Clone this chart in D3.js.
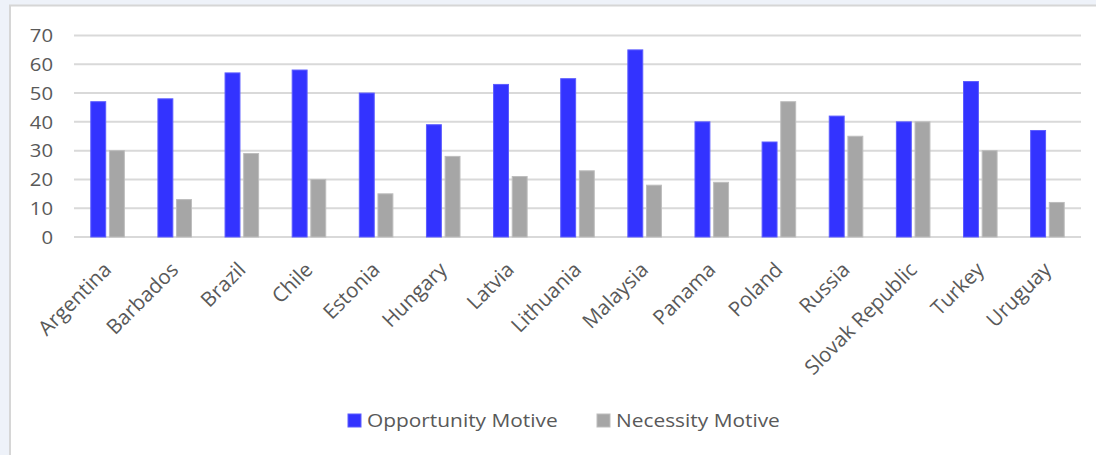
<!DOCTYPE html>
<html>
<head>
<meta charset="utf-8">
<script src="https://cdn.jsdelivr.net/npm/d3@7"></script>
<style>
  html, body { margin: 0; padding: 0; background: #eef2f9; }
  svg { display: block; }
</style>
</head>
<body>
<svg id="chart" width="1096" height="455"></svg>
<script>
// Countries and survey shares (%) by entrepreneurial motive
const countries = ["Argentina", "Barbados", "Brazil", "Chile", "Estonia", "Hungary", "Latvia",
  "Lithuania", "Malaysia", "Panama", "Poland", "Russia", "Slovak Republic", "Turkey", "Uruguay"];
const opportunity = [47, 48, 57, 58, 50, 39, 53, 55, 65, 40, 33, 42, 40, 54, 37];
const necessity   = [30, 13, 29, 20, 15, 28, 21, 23, 18, 19, 47, 35, 40, 30, 12];
const seriesNames = ["Opportunity Motive", "Necessity Motive"];
const yTicks = [0, 10, 20, 30, 40, 50, 60, 70];

const W = 1096, H = 455;
const svg = d3.select("#chart");
const colors = { "Opportunity Motive": "#3333ff", "Necessity Motive": "#a6a6a6" };
const strokes = { "Opportunity Motive": "#5c5cff", "Necessity Motive": "#bdbdbd" };
const font = "'Open Sans', sans-serif";
const textColor = "#595959";
const wide = 1.16; // horizontal widening of the label glyphs

// chart frame
svg.append("rect")
  .attr("x", 10).attr("y", 5.5).attr("width", W).attr("height", H)
  .attr("fill", "#ffffff").attr("stroke", "#d6d6d6").attr("stroke-width", 2);

const x0 = d3.scaleBand().domain(countries).range([74, 1081]).padding(0);
const x1 = d3.scaleBand().domain(seriesNames)
  .range([x0.bandwidth() * 0.25, x0.bandwidth() * 0.75]).paddingInner(0.2);
const y = d3.scaleLinear().domain([0, 70]).range([237, 35.5]);

// gridlines
svg.append("g").selectAll("line").data(yTicks).join("line")
  .attr("x1", 74).attr("x2", 1081)
  .attr("y1", d => y(d)).attr("y2", d => y(d))
  .attr("stroke", "#d9d9d9").attr("stroke-width", 2);

// y-axis labels
const yAxis = d3.axisLeft(y).tickValues(yTicks).tickSize(0).tickPadding(0);
const gy = svg.append("g").attr("transform", "translate(53,0)").call(yAxis);
gy.select(".domain").remove();
gy.selectAll("text")
  .attr("font-family", font).attr("font-size", 17.5)
  .attr("fill", textColor).attr("dy", "0.36em")
  .attr("transform", `scale(${wide},1)`);

// bars
const rows = countries.map((c, i) => ({ country: c, values: [
  { key: seriesNames[0], value: opportunity[i] },
  { key: seriesNames[1], value: necessity[i] } ] }));

svg.append("g").selectAll("g").data(rows).join("g")
  .attr("transform", d => `translate(${x0(d.country)},0)`)
  .selectAll("rect").data(d => d.values).join("rect")
  .attr("x", d => x1(d.key)).attr("width", x1.bandwidth())
  .attr("y", d => y(d.value)).attr("height", d => y(0) - y(d.value))
  .attr("fill", d => colors[d.key])
  .attr("stroke", d => strokes[d.key]).attr("stroke-width", 1);

// x-axis labels, slanted
const xAxis = d3.axisBottom(x0).tickSize(0).tickPadding(0);
const gx = svg.append("g").attr("transform", "translate(0,250)").call(xAxis);
gx.select(".domain").remove();
gx.selectAll("text")
  .attr("font-family", font).attr("font-size", 20.5)
  .attr("fill", textColor)
  .attr("text-anchor", "end")
  .attr("dy", 0)
  .attr("transform", "translate(5,21) rotate(-45)");

// legend
const legend = svg.append("g");
const legendX = [348, 597];
seriesNames.forEach((name, i) => {
  legend.append("rect")
    .attr("x", legendX[i]).attr("y", 414).attr("width", 13).attr("height", 13)
    .attr("fill", colors[name]).attr("stroke", strokes[name]).attr("stroke-width", 1);
  legend.append("text")
    .attr("transform", `translate(${legendX[i] + 19},427) scale(${wide},1)`)
    .attr("font-family", font).attr("font-size", 18)
    .attr("fill", textColor)
    .text(name);
});
</script>
</body>
</html>
